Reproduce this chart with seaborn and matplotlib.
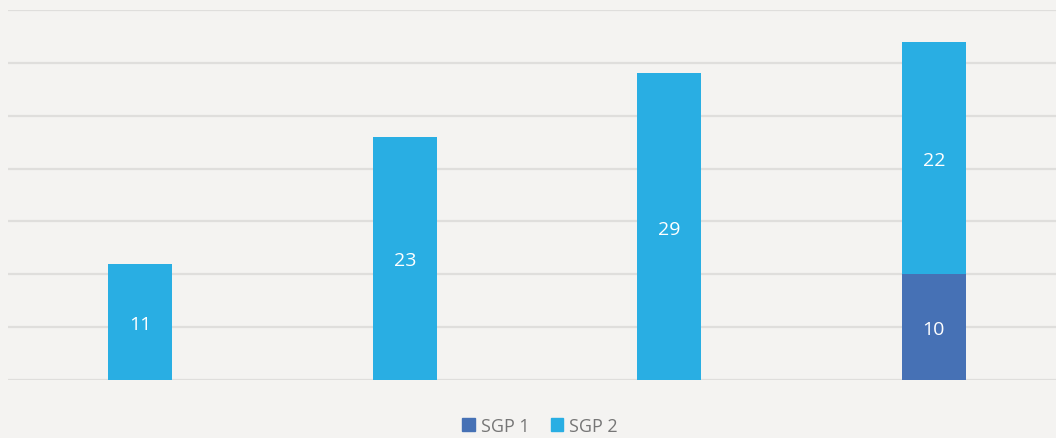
import numpy as np
import matplotlib
matplotlib.use("Agg")
import matplotlib.pyplot as plt
from matplotlib.patches import Patch
import seaborn as sns

# data
categories = ["1", "2", "3", "4"]
sgp1 = [0, 0, 0, 10]
sgp2 = [11, 23, 29, 22]
series_names = ["SGP 1", "SGP 2"]

c_sgp1 = "#4671B5"
c_sgp2 = "#29AEE3"
bg = "#F4F3F1"

sns.set_style("white")
plt.rcParams["font.family"] = ["Open Sans", "DejaVu Sans"]

fig = plt.figure(figsize=(10.56, 4.39), dpi=100, facecolor=bg)
ax = fig.add_axes([8 / 1056, 58 / 439, 1058 / 1056, 370 / 439])
ax.set_facecolor(bg)

totals = np.array(sgp1) + np.array(sgp2)
sns.barplot(x=categories, y=totals, color=c_sgp2, saturation=1, width=0.242,
            linewidth=0, ax=ax, zorder=3)
sns.barplot(x=categories, y=sgp1, color=c_sgp1, saturation=1, width=0.242,
            linewidth=0, ax=ax, zorder=3)

# value labels centred in each segment
for i in range(len(categories)):
    if sgp1[i]:
        ax.text(i, sgp1[i] / 2, str(sgp1[i]), ha="center", va="center_baseline",
                color="white", fontsize=14, zorder=4)
    if sgp2[i]:
        ax.text(i, sgp1[i] + sgp2[i] / 2, str(sgp2[i]), ha="center", va="center_baseline",
                color="white", fontsize=14, zorder=4)

ax.set_ylim(0, 35)
ax.set_xlim(-0.5, 3.5)
ax.set_yticks(np.arange(0, 36, 5))
ax.yaxis.grid(True, color="#DFDEDC", linewidth=1.6, zorder=0)
ax.set_axisbelow(True)
ax.tick_params(left=False, bottom=False, labelleft=False, labelbottom=False)
ax.set_xlabel("")
ax.set_ylabel("")
for s in ax.spines.values():
    s.set_visible(False)

handles = [Patch(color=c_sgp1), Patch(color=c_sgp2)]
fig.legend(handles, series_names, loc="center", bbox_to_anchor=(540 / 1056, 1 - 427 / 439),
           ncol=2, frameon=False, fontsize=13, labelcolor="#767676",
           handlelength=0.7, handleheight=0.7, handletextpad=0.3, columnspacing=1.2)

fig.savefig("out.png", dpi=100, facecolor=bg)
